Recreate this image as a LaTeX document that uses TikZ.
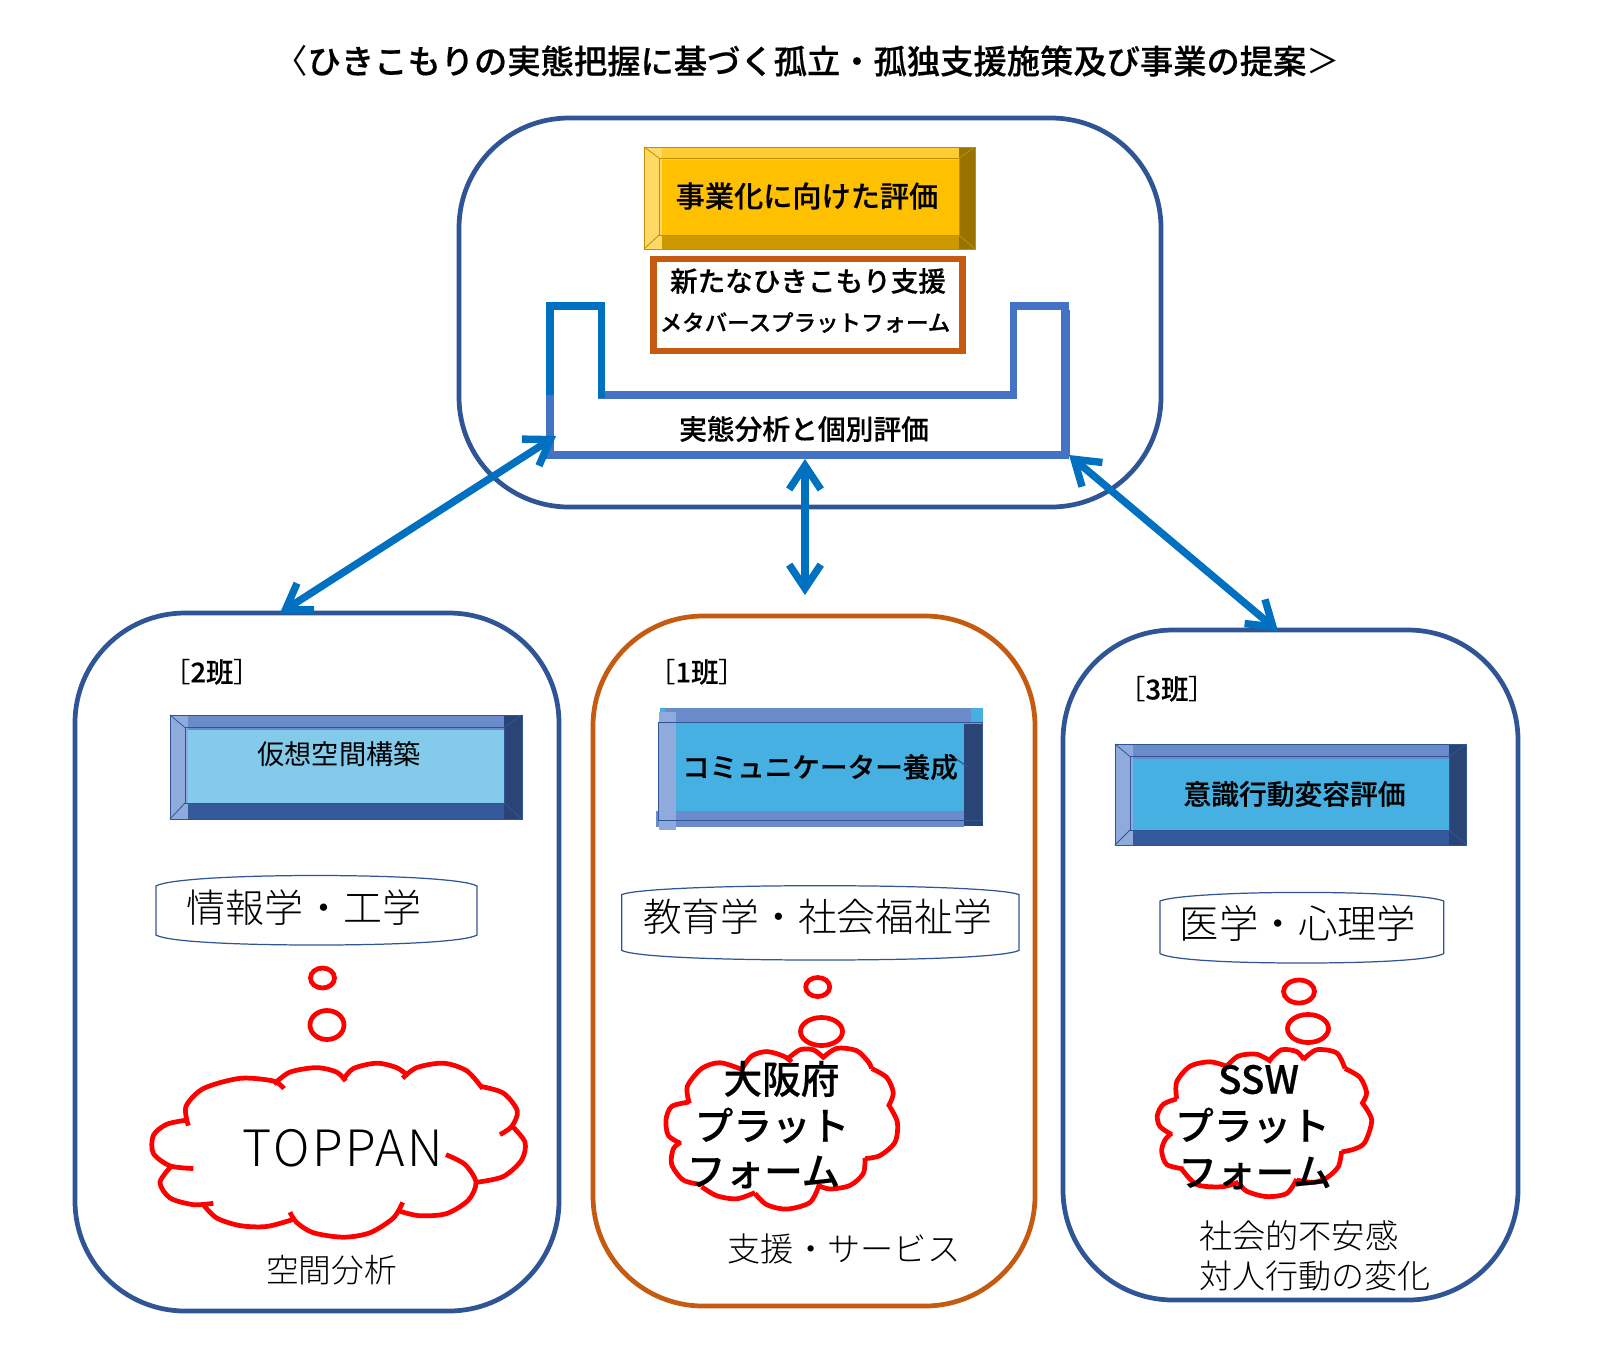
\documentclass[tikz,border=0pt]{standalone}
\usepackage{fontspec}
\usepackage{xcolor}
\usetikzlibrary{arrows.meta,fit}
\setmainfont{Noto Sans CJK JP}
\newfontfamily\thinfont{Noto Sans CJK JP Light}
\newfontfamily\midfont[FakeBold=0.35]{Noto Sans CJK JP Medium}
\definecolor{navyline}{HTML}{2F5597}
\definecolor{rustline}{HTML}{C55A11}
\definecolor{linkblue}{HTML}{0070C0}
\definecolor{ushape}{HTML}{4472C4}
\definecolor{cloudred}{HTML}{FF0000}
% plate colours
\definecolor{gold}{HTML}{FFC000}
\definecolor{goldleft}{HTML}{FFD966}
\definecolor{goldtop}{HTML}{FFCD33}
\definecolor{goldbottom}{HTML}{CC9A00}
\definecolor{goldright}{HTML}{997300}
\definecolor{goldline}{HTML}{BF9000}
\definecolor{sky}{HTML}{83CAEB}
\definecolor{ocean}{HTML}{45B0E1}
\definecolor{bandleft}{HTML}{8FAADC}
\definecolor{bandtop}{HTML}{6A8CCB}
\definecolor{bandbottom}{HTML}{355A9B}
\definecolor{bandright}{HTML}{2A4476}
\colorlet{skyleft}{bandleft}\colorlet{skytop}{bandtop}\colorlet{skybottom}{bandbottom}\colorlet{skyright}{bandright}\colorlet{skyline}{navyline}
\colorlet{oceanleft}{bandleft}\colorlet{oceantop}{bandtop}\colorlet{oceanbottom}{bandbottom}\colorlet{oceanright}{bandright}\colorlet{oceanline}{navyline}

\tikzset{
  groupbox/.style={draw,line width=2.7pt,rounded corners=2.2cm,inner sep=0pt,outer sep=0pt},
  linkarrow/.style={draw=linkblue,line width=4.2pt,{Straight Barb[length=13.5pt,width=18pt]}-{Straight Barb[length=13.5pt,width=18pt]}},
  cloudline/.style={draw=cloudred,line width=2.7pt},
  tapeline/.style={draw=navyline,line width=0.7pt},
  ubar/.style={line width=4pt},
  txt/.style={inner sep=0pt,outer sep=0pt,black},
}
% plate: outer x1,y1,x2,y2, band edges xl,yt,xr,yb, colour name
\newcommand{\bevelplate}[9]{%
  \fill[#9] (#1,#2) rectangle (#3,#4);
  \fill[#9left] (#1,#2) rectangle (#5,#4);
  \fill[#9top] (#5,#2) rectangle (#7,#6);
  \fill[#9bottom] (#5,#8) rectangle (#7,#4);
  \fill[#9right] (#7,#2) rectangle (#3,#4);
  \draw[#9line,line width=0.45pt] (#1,#2) rectangle (#3,#4);
  \draw[#9line,line width=0.45pt] (#5-3,#6-2) rectangle (#7,#8);
  \draw[#9line,line width=0.45pt] (#1,#2) -- (#5-3,#6-2) (#3,#2) -- (#7,#6-2) (#1,#4) -- (#5-3,#8) (#3,#4) -- (#7,#8);
}

\begin{document}
\begin{tikzpicture}[x=0.02cm,y=-0.02cm]
    \useasboundingbox (0,0) rectangle (1600,1350);
    % Title
    \node[txt,font=\midfont\fontsize{18.95}{20}\selectfont] (title) at (807,61) {{\normalfont〈}ひきこもりの実態把握に基づく孤立・孤独支援施策及び事業の提案{\normalfont＞}};
    % Frames
    \node[groupbox,draw=navyline,fit={(459,118) (1161,507)}] (evalframe) {};
    \node[groupbox,draw=navyline,fit={(75,613) (559,1311)}] (teamtwo) {};
    \node[groupbox,draw=rustline,fit={(593,616) (1035,1306)}] (teamone) {};
    \node[groupbox,draw=navyline,fit={(1063,630) (1518,1300)}] (teamthree) {};
    % Top block
    \bevelplate{644}{147}{975}{249}{662}{160}{959}{235}{gold}
    \node[txt,font=\midfont\fontsize{16.6}{18}\selectfont] (bizeval) at (807,196) {事業化に向けた評価};
    \node[draw=rustline,line width=3.5pt,fit={(653.5,259) (962.5,351)},inner sep=0pt] (metabox) {};
    \node[txt,font=\midfont\fontsize{15.7}{17}\selectfont] (newsupport) at (808,281) {新たなひきこもり支援};
    \node[txt,font=\midfont\fontsize{12.8}{14}\selectfont] (metaverse) at (805,322.5) {メタバースプラットフォーム};
    % U shape
    \draw[ubar,draw=ushape] (550,390) -- (550,455) -- (1065,455) -- (1065,306) -- (1013.5,306) -- (1013.5,395) -- (598,395);
    \draw[ushape,line width=3pt] (1067,310) -- (1067,455);
    \draw[ubar,draw=linkblue] (550,395) -- (550,306) -- (601.6,306) -- (601.6,398);
    \node[txt,font=\midfont\fontsize{15.8}{17}\selectfont] (analysis) at (804,429) {実態分析と個別評価};
    % Arrows
    \coordinate (ulefttip) at (556,436);
    \coordinate (umidtip) at (805,459);
    \coordinate (urighttip) at (1069,455);
    \coordinate (twotip) at (280,613);
    \coordinate (onetip) at (805,595);
    \coordinate (threetip) at (1278,631);
    \draw[linkarrow] (ulefttip) -- (twotip);
    \draw[linkarrow] (umidtip) -- (onetip);
    \draw[linkarrow] (urighttip) -- (threetip);
    % Team 2
    \node[txt,font=\fontsize{15.6}{17}\selectfont] (tagtwo) at (212,672) {［{\midfont 2班}］};
    \bevelplate{170}{715}{522}{819}{188}{729.5}{504}{803}{sky}
    \node[txt,font=\fontsize{15.5}{17}\selectfont] (vspace) at (339,754) {仮想空間構築};
    \draw[tapeline] (156,886) .. controls (168,879) and (240,875.5) .. (316,875.5) .. controls (392,875.5) and (465,879) .. (477,886) -- (477,935) .. controls (465,942) and (392,945) .. (316,945) .. controls (240,945) and (168,942) .. (156,935) -- cycle;
    \node[txt,font=\thinfont\fontsize{22.2}{24}\selectfont] (infosci) at (304,907.5) {情報学・工学};
    \draw[cloudline] (322.5,978) ellipse (12 and 10);
    \draw[cloudline] (327,1025) ellipse (17 and 14.5);
    \begin{scope}[shift={(60,600)},x=0.00667cm,y=-0.00893cm,cloudline]
    \draw plot[smooth] coordinates {(385,1178) (378,1135) (430,1095) (540,1072) (640,1078) (672,1095)};
    \draw plot[smooth] coordinates {(642,1085) (690,1058) (770,1048) (830,1058) (857,1078)};
    \draw plot[smooth] coordinates {(850,1075) (880,1050) (950,1038) (1010,1048) (1042,1065)};
    \draw plot[smooth] coordinates {(1028,1072) (1070,1048) (1150,1038) (1220,1055) (1268,1095)};
    \draw plot[smooth] coordinates {(1262,1090) (1330,1105) (1372,1145) (1355,1180) (1320,1198)};
    \draw plot[smooth] coordinates {(1355,1178) (1395,1215) (1385,1255) (1330,1292) (1250,1305)};
    \draw plot[smooth] coordinates {(1158,1243) (1215,1265) (1248,1305) (1225,1345) (1160,1375) (1080,1380) (1020,1370)};
    \draw plot[smooth] coordinates {(1028,1350) (1000,1385) (930,1418) (850,1428) (760,1418) (710,1395) (690,1372)};
    \draw plot[smooth] coordinates {(700,1388) (620,1404) (540,1402) (470,1385) (430,1355)};
    \draw plot[smooth] coordinates {(460,1352) (400,1355) (330,1340) (300,1305) (335,1268)};
    \draw plot[smooth] coordinates {(400,1274) (330,1268) (280,1240) (280,1200) (320,1175) (385,1165)};
    \end{scope}
    \node[txt,font=\thinfont\fontsize{28.5}{30}\selectfont\addfontfeature{LetterSpace=5}] (toppan) at (343,1148) {TOPPAN};
    \node[txt,font=\thinfont\fontsize{18.6}{20}\selectfont] (spatial) at (331.5,1270) {空間分析};
    % Team 1
    \node[txt,font=\fontsize{15.6}{17}\selectfont] (tagone) at (697,672) {［{\midfont 1班}］};
    \fill[ocean] (660,708) rectangle (982.7,826);
    \fill[bandtop] (665,708) rectangle (971,722);
    \fill[bandtop] (656,811) rectangle (964,826.8);
    \fill[bandleft] (659,711.6) rectangle (676,830);
    \fill[bandright] (964,724) rectangle (982.7,826.3);
    \draw[navyline,line width=0.6pt] (658.3,722.8) rectangle (982.7,820.5);
    \draw[navyline,line width=0.6pt] (951.7,756) -- (968,767);
    \node[txt,font=\midfont\fontsize{15.7}{17}\selectfont] (communicator) at (820,767) {コミュニケーター養成};
    \draw[tapeline] (621.7,894.6) .. controls (635,889) and (720,885.7) .. (820,885.7) .. controls (920,885.7) and (1005,889) .. (1019,894.6) -- (1019,950.4) .. controls (1005,957) and (920,960) .. (820,960) .. controls (720,960) and (635,957) .. (621.7,950.4) -- cycle;
    \node[txt,font=\thinfont\fontsize{22.05}{24}\selectfont] (education) at (817.5,916.5) {教育学・社会福祉学};
    \draw[cloudline] (817.7,987) ellipse (12 and 9.5);
    \begin{scope}[shift={(570,600)},x=0.00667cm,y=-0.00893cm,cloudline]
    \draw plot[smooth] coordinates {(358,1128) (352,1090) (395,1050) (450,1037) (515,1052)};
    \draw plot[smooth] coordinates {(515,1052) (545,1022) (590,1012) (640,1022) (665,1035)};
    \draw plot[smooth] coordinates {(650,1030) (690,1008) (730,1008) (760,1025)};
    \draw plot[smooth] coordinates {(755,1028) (800,1005) (860,1010) (895,1035) (905,1050)};
    \draw plot[smooth] coordinates {(905,1050) (950,1070) (970,1105) (955,1135)};
    \draw plot[smooth] coordinates {(955,1130) (982,1170) (975,1215) (930,1245) (885,1252)};
    \draw plot[smooth] coordinates {(885,1250) (880,1285) (840,1312) (780,1320) (745,1312)};
    \draw plot[smooth] coordinates {(748,1310) (720,1350) (650,1365) (590,1355) (555,1330)};
    \draw plot[smooth] coordinates {(555,1328) (500,1342) (440,1335) (395,1315)};
    \draw plot[smooth] coordinates {(395,1310) (340,1300) (305,1265) (310,1230) (332,1215)};
    \draw plot[smooth] coordinates {(332,1218) (295,1200) (288,1165) (305,1135) (358,1125)};
    \end{scope}
    \draw[cloudline] (821.5,1031.5) ellipse (21 and 14);
    \node[txt,font=\midfont\fontsize{22}{24}\selectfont] (osaka) at (781.5,1079) {大阪府};
    \node[txt,font=\midfont\fontsize{22}{24}\selectfont] (platone) at (772,1125.5) {プラット};
    \node[txt,font=\midfont\fontsize{22}{24}\selectfont] (formone) at (763.5,1172) {フォーム};
    \node[txt,font=\thinfont\fontsize{18.9}{20}\selectfont] (service) at (844,1249) {支援・サービス};
    % Team 3
    \node[txt,font=\fontsize{15.6}{17}\selectfont] (tagthree) at (1167,689) {［{\midfont 3班}］};
    \bevelplate{1115}{744}{1466.7}{845}{1133}{758.5}{1449}{830}{ocean}
    \node[txt,font=\midfont\fontsize{15.8}{17}\selectfont] (mindset) at (1294.5,794) {意識行動変容評価};
    \draw[tapeline] (1160,901) .. controls (1172,896) and (1230,892.4) .. (1302,892.4) .. controls (1374,892.4) and (1432,896) .. (1443.7,901) -- (1443.7,953.6) .. controls (1432,960) and (1374,963) .. (1302,963) .. controls (1230,963) and (1172,960) .. (1160,953.6) -- cycle;
    \node[txt,font=\thinfont\fontsize{22.4}{24}\selectfont] (medical) at (1298,923.5) {医学・心理学};
    \draw[cloudline] (1299,991.5) ellipse (15.5 and 11.5);
    \draw[cloudline] (1308,1028.5) ellipse (20.5 and 14);
    \begin{scope}[shift={(1030,600)},x=0.00667cm,y=-0.00893cm,cloudline]
    \draw plot[smooth] coordinates {(440,1118) (440,1080) (480,1045) (540,1035) (590,1045)};
    \draw plot[smooth] coordinates {(590,1045) (625,1022) (680,1018) (725,1035)};
    \draw plot[smooth] coordinates {(720,1030) (755,1008) (800,1012) (822,1030)};
    \draw plot[smooth] coordinates {(820,1030) (860,1008) (920,1015) (945,1050)};
    \draw plot[smooth] coordinates {(945,1050) (990,1070) (1010,1105) (995,1130)};
    \draw plot[smooth] coordinates {(995,1125) (1025,1165) (1005,1215) (975,1230) (935,1237)};
    \draw plot[smooth] coordinates {(935,1235) (925,1270) (890,1295) (850,1305) (800,1300)};
    \draw plot[smooth] coordinates {(800,1298) (770,1330) (710,1337) (650,1325) (625,1305)};
    \draw plot[smooth] coordinates {(625,1305) (575,1315) (500,1310) (455,1275)};
    \draw plot[smooth] coordinates {(460,1275) (410,1265) (395,1235) (405,1210) (425,1195)};
    \draw plot[smooth] coordinates {(425,1198) (390,1180) (382,1155) (400,1130) (440,1118)};
    \end{scope}
    \node[txt,font=\midfont\fontsize{22}{24}\selectfont] (ssw) at (1258.5,1079.5) {SSW};
    \node[txt,font=\midfont\fontsize{22}{24}\selectfont] (platthree) at (1252.5,1125.5) {プラット};
    \node[txt,font=\midfont\fontsize{22}{24}\selectfont] (formthree) at (1255,1173) {フォーム};
    \node[txt,font=\thinfont\fontsize{18.9}{20}\selectfont,anchor=west] (anxiety) at (1199,1236) {社会的不安感};
    \node[txt,font=\thinfont\fontsize{18.8}{20}\selectfont,anchor=west] (behavior) at (1199,1276) {対人行動の変化};
\end{tikzpicture}
\end{document}
